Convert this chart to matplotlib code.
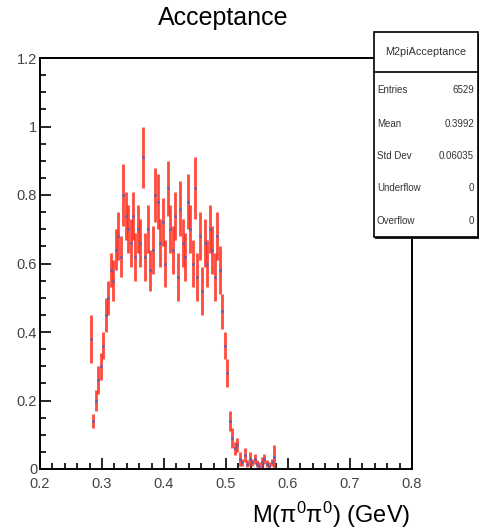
import matplotlib
matplotlib.use('Agg')
import matplotlib.pyplot as plt
import numpy as np
from matplotlib.patches import Rectangle
from matplotlib.ticker import MultipleLocator

plt.rcParams['font.family'] = ['Liberation Sans', 'DejaVu Sans']
plt.rcParams['mathtext.fontset'] = 'custom'
plt.rcParams['mathtext.rm'] = 'Liberation Sans'
plt.rcParams['mathtext.it'] = 'Liberation Sans'

# histogram bins (width 0.004 GeV) from 0.28 to 0.58
bin_lo = 0.28
bin_w = 0.004
acc = [0.38, 0.14, 0.20, 0.26, 0.30, 0.36, 0.45, 0.50, 0.58, 0.55,
       0.64, 0.68, 0.62, 0.80, 0.74, 0.70, 0.66, 0.74, 0.62, 0.70,
       0.66, 0.91, 0.62, 0.70, 0.58, 0.64, 0.80, 0.78, 0.66, 0.72,
       0.60, 0.82, 0.70, 0.64, 0.74, 0.56, 0.76, 0.66, 0.62, 0.78,
       0.70, 0.60, 0.82, 0.56, 0.68, 0.52, 0.66, 0.60, 0.70, 0.64,
       0.56, 0.68, 0.58, 0.46, 0.36, 0.28, 0.14, 0.09, 0.06, 0.07,
       0.03, 0.02, 0.04, 0.015, 0.03, 0.02, 0.03, 0.015, 0.01, 0.02,
       0.03, 0.015, 0.01, 0.02, 0.035]
err = [0.07, 0.02, 0.03, 0.04, 0.04, 0.04, 0.05, 0.05, 0.05, 0.06,
       0.06, 0.07, 0.06, 0.09, 0.07, 0.07, 0.07, 0.07, 0.07, 0.07,
       0.07, 0.09, 0.07, 0.07, 0.06, 0.07, 0.08, 0.08, 0.07, 0.07,
       0.07, 0.08, 0.07, 0.07, 0.07, 0.07, 0.08, 0.07, 0.07, 0.08,
       0.07, 0.07, 0.09, 0.07, 0.07, 0.07, 0.07, 0.07, 0.07, 0.07,
       0.07, 0.07, 0.07, 0.05, 0.04, 0.04, 0.03, 0.03, 0.02, 0.02,
       0.02, 0.01, 0.02, 0.01, 0.02, 0.01, 0.015, 0.01, 0.01, 0.015,
       0.015, 0.01, 0.01, 0.01, 0.035]

stat_names = ['Entries', 'Mean', 'Std Dev', 'Underflow', 'Overflow']
stat_vals = ['6529', '0.3992', '0.06035', '0', '0']

x = bin_lo + bin_w * (np.arange(len(acc)) + 0.5)

fig = plt.figure(figsize=(4.81, 5.30), dpi=100)
ax = fig.add_axes([40/481, 61/530, 372/481, 411/530])
ax.errorbar(x, acc, yerr=err, fmt='o', ms=1.2, mfc='#6060b0', mec='#6060b0',
            ecolor='#ff2a1a', elinewidth=2.0, capsize=0, alpha=0.85)

ax.set_xlim(0.2, 0.8)
ax.set_ylim(0, 1.2)
ax.xaxis.set_major_locator(MultipleLocator(0.1))
ax.xaxis.set_minor_locator(MultipleLocator(0.02))
ax.yaxis.set_major_locator(MultipleLocator(0.2))
ax.yaxis.set_minor_locator(MultipleLocator(0.05))
ax.set_yticks([0, 0.2, 0.4, 0.6, 0.8, 1.0, 1.2])
ax.set_yticklabels(['0', '0.2', '0.4', '0.6', '0.8', '1', '1.2'])
ax.set_xticks([0.2, 0.3, 0.4, 0.5, 0.6, 0.7, 0.8])
ax.set_xticklabels(['0.2', '0.3', '0.4', '0.5', '0.6', '0.7', '0.8'])
ax.tick_params(which='both', direction='in', top=False, right=False,
               colors='black', labelcolor='#444444', labelsize=10.5, width=1.2)
ax.tick_params(which='major', length=8)
ax.tick_params(which='minor', length=4)
ax.tick_params(axis='y', pad=2)
ax.tick_params(axis='x', pad=6)
for s in ax.spines.values():
    s.set_linewidth(1.4)

fig.text(223/481, 1 - 18/530, 'Acceptance', ha='center', va='center', fontsize=18)
fig.text(410/481, 1 - 515/530, r'M($\mathregular{\pi^0\pi^0}$) (GeV)',
         ha='right', va='center', fontsize=17)

# stats box
bx0, bx1 = 374/481, 478/481
by0, by1 = 1 - 237/530, 1 - 32/530
fig.patches.append(Rectangle((bx0 + 0.003, by0 - 0.004), bx1 - bx0, by1 - by0,
                             transform=fig.transFigure, fc='#222222', ec='none', zorder=5))
fig.patches.append(Rectangle((bx0, by0), bx1 - bx0, by1 - by0,
                             transform=fig.transFigure, fc='white', ec='black', lw=1.2, zorder=6))
hy = 1 - 72/530
fig.lines.append(plt.Line2D([bx0, bx1], [hy, hy], transform=fig.transFigure,
                            color='black', lw=1.2, zorder=7))
fig.text((bx0 + bx1) / 2, 1 - 52/530, 'M2piAcceptance', ha='center', va='center',
         fontsize=7.8, color='#333333', zorder=8)
row_y = [90, 124, 156, 188, 221]
for name, val, yy in zip(stat_names, stat_vals, row_y):
    fig.text(377/481, 1 - yy/530, name, ha='left', va='center', fontsize=7,
             color='#333333', zorder=8)
    fig.text(474/481, 1 - yy/530, val, ha='right', va='center', fontsize=7,
             color='#333333', zorder=8)

fig.savefig('out.png', dpi=100)
